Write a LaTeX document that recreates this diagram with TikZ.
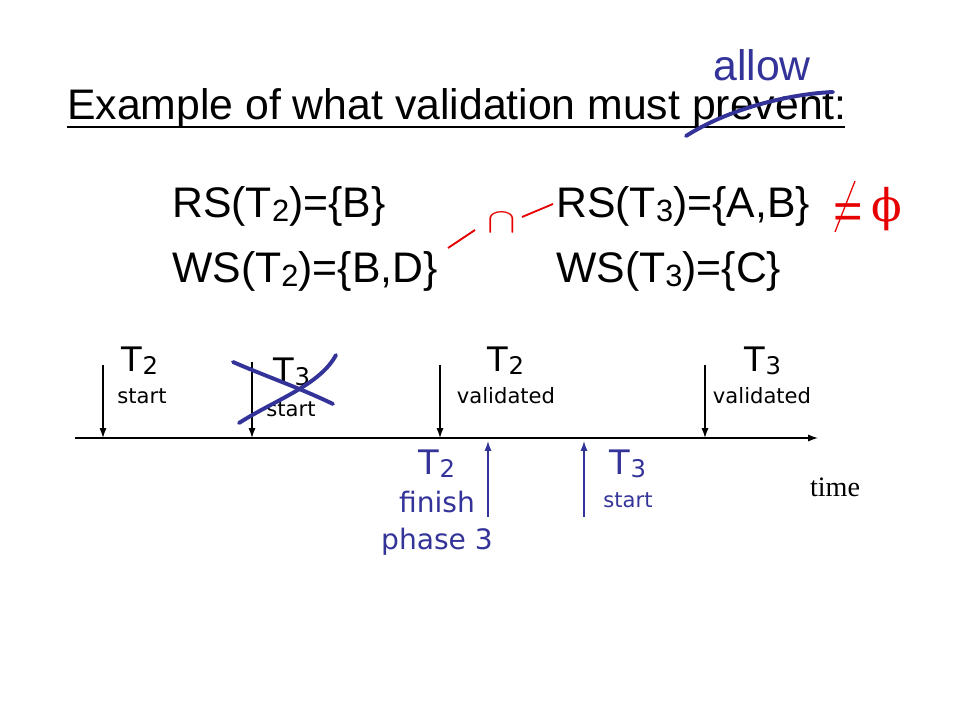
\documentclass[tikz,border=0pt]{standalone}
\usepackage{fontspec}
\usepackage{graphicx}
\usetikzlibrary{arrows.meta}
\setmainfont{Liberation Sans}
\newfontfamily\tahoma{DejaVu Sans}
\newfontfamily\timesf{Liberation Serif}
\newfontfamily\symf{DejaVu Serif}
\newcommand\idx[1]{\raisebox{-0.08em}{\scalebox{0.72}{#1}}}
\definecolor{penblue}{RGB}{51,51,153}
\definecolor{penred}{RGB}{230,0,0}
\tikzset{
  big/.style={font=\fontsize{30.4}{36}\selectfont, inner sep=0pt, anchor=base west},
  tname/.style={font=\tahoma\fontsize{24}{28}\selectfont, inner sep=0pt, anchor=base},
  tevent/.style={font=\tahoma\fontsize{15}{18}\selectfont, inner sep=0pt, anchor=base},
  pen/.style={penblue, line width=2.8pt, line cap=round},
  redline/.style={penred, line width=1.3pt},
  tick/.style={-{Latex[length=7pt,width=5pt]}, line width=0.9pt}
}
\begin{document}
\begin{tikzpicture}[x=0.025cm, y=-0.025cm]
    \useasboundingbox (0,0) rectangle (960,720);

    % title and correction
    \node[big] (title) at (67,120) {Example of what validation must prevent:};
    \draw[line width=1.4pt] (67,127) -- (845,127);
    \node[big, penblue] (allow) at (713,81) {allow};
    \draw[pen] (686,136) .. controls (730,108) and (790,94) .. (833,92);

    % read and write sets
    \node[big] (rs2) at (172,218) {RS(T\idx{2})=\{B\}};
    \node[big] (ws2) at (172,283) {WS(T\idx{2})=\{B,D\}};
    \node[big] (rs3) at (556,218) {RS(T\idx{3})=\{A,B\}};
    \node[big] (ws3) at (556,283) {WS(T\idx{3})=\{C\}};

    % intersection not empty
    \node[penred, inner sep=0pt, anchor=south] (cap) at (502,233) {\scalebox{3.05}[2.5]{$\cap$}};
    \coordinate (c1) at (448,248);
    \coordinate (c2) at (475,230);
    \coordinate (c3) at (522,217);
    \coordinate (c4) at (553,204);
    \draw[redline] (c1) -- (c2);
    \draw[redline] (c3) -- (c4);
    \node[penred, inner sep=0pt, font=\fontsize{36}{40}\selectfont] (neq) at (848,216) {=};
    \draw[penred, line width=0.9pt] (835,232) -- (855,181);
    \node[penred, inner sep=0pt, font=\symf\fontsize{32}{38}\selectfont] (empty) at (887,209) {ϕ};

    % time axis
    \coordinate (t0) at (75,438);
    \coordinate (tend) at (818,438);
    \draw[tick] (t0) -- (tend);
    \node[font=\timesf\fontsize{20}{24}\selectfont, inner sep=0pt, anchor=base] (time) at (835,497) {time};

    % events above the axis
    \node[tname] (t2s) at (140,372) {T\idx{2}};
    \node[tevent] (t2sl) at (142,404) {start};
    \node[tname] (t3s) at (292,383) {T\idx{3}};
    \node[tevent] (t3sl) at (291,417) {start};
    \node[tname] (t2v) at (506,372) {T\idx{2}};
    \node[tevent] (t2vl) at (506,404) {validated};
    \node[tname] (t3v) at (763,372) {T\idx{3}};
    \node[tevent] (t3vl) at (762,404) {validated};
    \foreach \x/\top in {103/365, 252/362, 440/365, 705/365}
      \draw[tick] (\x,\top) -- (\x,438);

    % crossed out start of T3
    \draw[pen] (233,362) .. controls (270,378) and (300,388) .. (333,404);
    \draw[pen] (239,423) .. controls (275,400) and (320,385) .. (336,355);

    % events below the axis
    \node[tname, penblue] (t2f) at (437,475) {T\idx{2}};
    \node[tname, penblue, font=\tahoma\fontsize{20}{24}\selectfont] (t2fl) at (437,513) {finish};
    \node[tname, penblue, font=\tahoma\fontsize{20}{24}\selectfont] (t2fp) at (437,550) {phase 3};
    \node[tname, penblue] (t3n) at (628,475) {T\idx{3}};
    \node[tevent, penblue] (t3nl) at (628,508) {start};
    \foreach \x in {488, 584}
      \draw[tick, penblue] (\x,517) -- (\x,441);
\end{tikzpicture}
\end{document}
